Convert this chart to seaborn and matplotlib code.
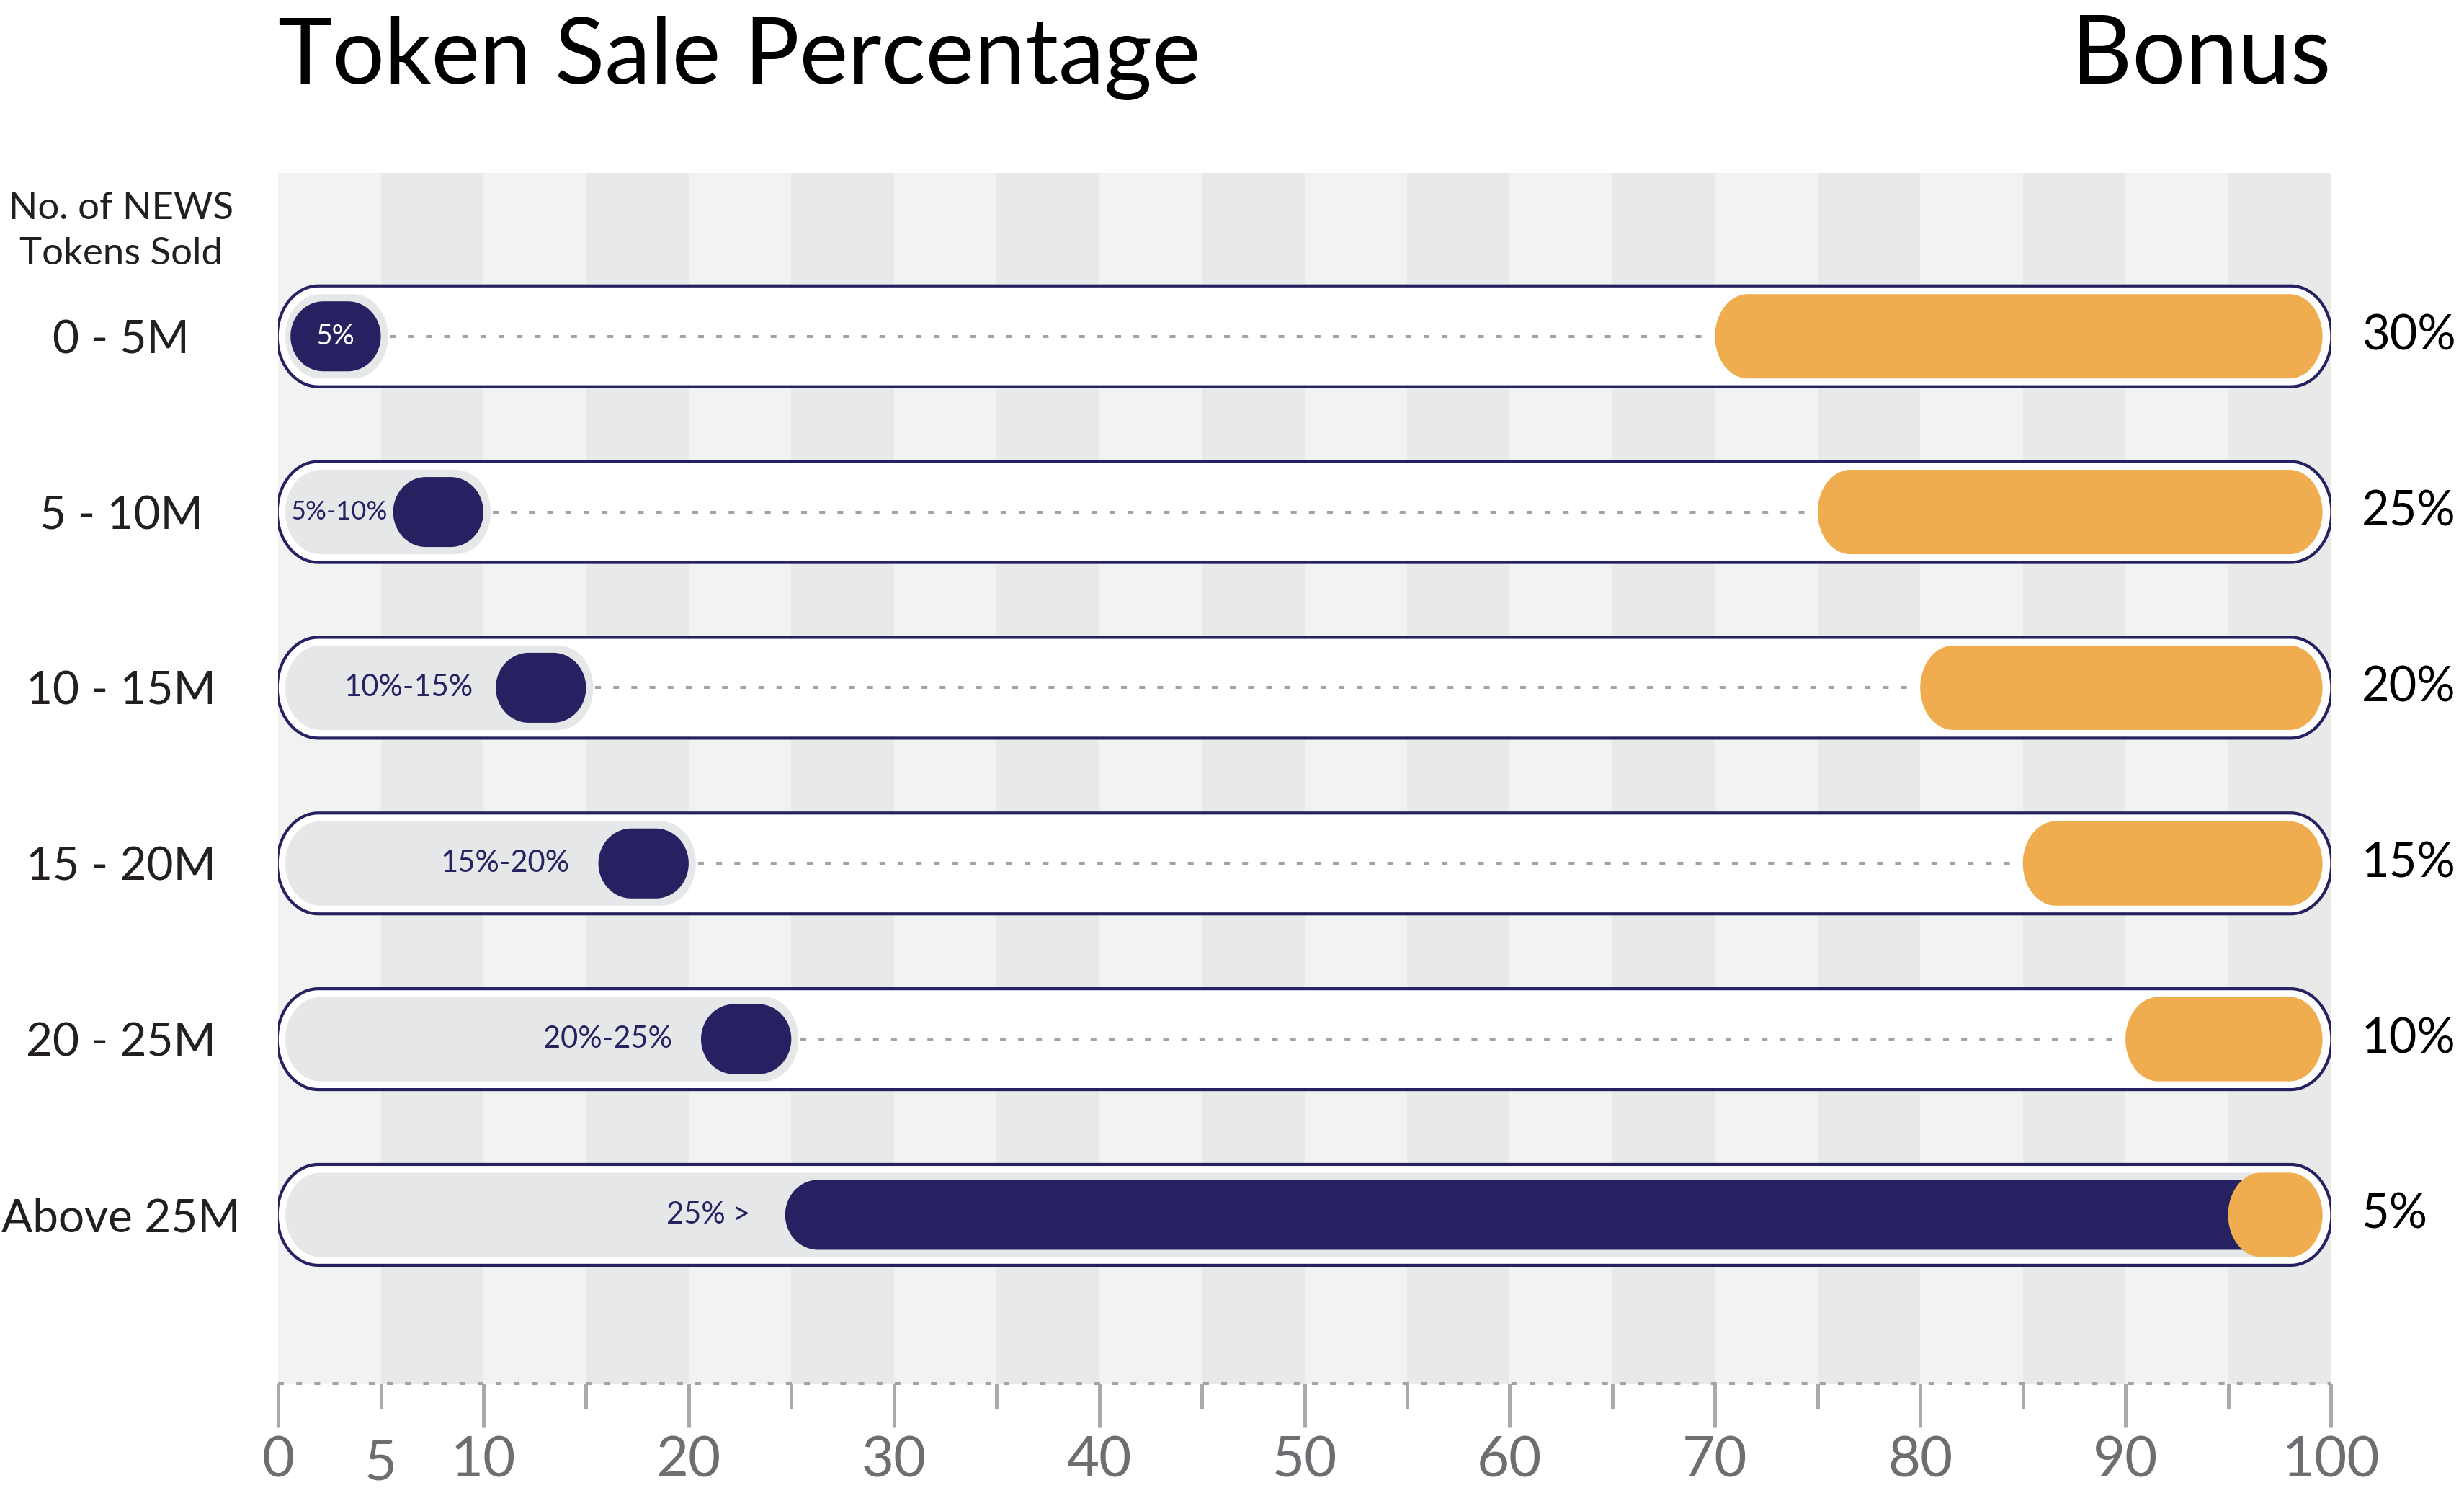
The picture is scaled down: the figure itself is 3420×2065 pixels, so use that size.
import matplotlib
matplotlib.use("Agg")
import matplotlib.pyplot as plt
from matplotlib.patches import Polygon
import numpy as np
import seaborn as sns

# data
tiers = ["0 - 5M", "5 - 10M", "10 - 15M", "15 - 20M", "20 - 25M", "Above 25M"]
sale_start = [0, 5, 10, 15, 20, 25]
sale_end = [5, 10, 15, 20, 25, 100]
sale_labels = ["5%", "5%-10%", "10%-15%", "15%-20%", "20%-25%", "25% >"]
bonus = [30, 25, 20, 15, 10, 5]
bonus_labels = ["30%", "25%", "20%", "15%", "10%", "5%"]
track = [100, 100, 100, 100, 100, 100]
major_ticks = [0, 10, 20, 30, 40, 50, 60, 70, 80, 90, 100]
minor_ticks = [5, 15, 25, 35, 45, 55, 65, 75, 85, 95]
minor_labels = ["5", "", "", "", "", "", "", "", "", ""]

NAVY = "#262262"
ORANGE = "#efad4f"
FILL_GRAY = "#e6e7e9"
STRIPE_LIGHT = "#f1f2f2"
STRIPE_DARK = "#e8e9e9"
DOT_GRAY = "#a3a3a3"
TICK_GRAY = "#a7a9ac"
TICK_TEXT = "#6d6e71"
TEXT = "#231f20"

sns.set_theme(style="white")
plt.rcParams['font.family'] = ['Lato', 'DejaVu Sans']

fig = plt.figure(figsize=(17.1, 10.325), dpi=200)
ax = fig.add_axes([0.1129, 0.0702, 0.8330, 0.8136])
ax.set_facecolor(STRIPE_LIGHT)


def capsule_xy(x0, x1, y0, h, rx):
    # rectangle with elliptical ends (horizontal radius rx, vertical radius h/2)
    yc, ry = y0 + h / 2, h / 2
    rx = min(rx, (x1 - x0) / 2)
    t = np.linspace(-np.pi / 2, np.pi / 2, 40)
    right = np.column_stack([x1 - rx + rx * np.cos(t), yc + ry * np.sin(t)])
    left = np.column_stack([x0 + rx - rx * np.cos(t), yc - ry * np.sin(t)])
    return np.vstack([right, left])


def capsule_layer(values, height, color, lefts, rights, rx, zorder, ec="none", lw=0):
    # draw the bars with seaborn, then swap each rectangle for a capsule of the same row
    n0 = len(ax.patches)
    sns.barplot(x=values, y=tiers, orient="h", width=height, color=color,
                saturation=1, errorbar=None, ax=ax)
    new = list(ax.patches[n0:])
    for p, x0, x1 in zip(new, lefts, rights):
        y0, h = p.get_y(), p.get_height()
        p.remove()
        ax.add_patch(Polygon(capsule_xy(x0, x1, y0, h, rx), closed=True,
                             fc=color, ec=ec, lw=lw, zorder=zorder))


n = len(tiers)
# outer track
capsule_layer(track, 0.574, "white", [-0.05] * n, [t + 0.05 for t in track], 2.0, 2,
              ec=NAVY, lw=1.5)
# light gray progress
gray_right = [min(e + 0.35, 99.6) for e in sale_end]
capsule_layer(sale_end, 0.48, FILL_GRAY, [0.35] * n, gray_right, 1.7, 3)
# navy sale segment
navy_left = [s + 0.6 if e - s <= 5 else s - 0.3 for s, e in zip(sale_start, sale_end)]
navy_right = [min(e, 100 - b + 3) for e, b in zip(sale_end, bonus)]
capsule_layer(sale_end, 0.398, NAVY, navy_left, navy_right, 1.6, 4)
# orange bonus
orange_left = [100 - b for b in bonus]
capsule_layer(bonus, 0.48, ORANGE, orange_left, [99.6] * n, 1.6, 5)

# dotted connectors
for i in range(n):
    if navy_right[i] < orange_left[i]:
        ax.plot([navy_right[i] + 0.45, orange_left[i] - 0.4], [i, i],
                color=DOT_GRAY, lw=1.45, ls=(0, (2, 4.25)), dash_capstyle="butt",
                solid_capstyle="butt", zorder=3.5)

# inner labels
label_size = [14, 13, 15, 15, 15, 15]
label_gap = [0, 0.3, 1.1, 1.4, 1.4, 1.7]
for i, lab in enumerate(sale_labels):
    if i == 0:
        ax.text((navy_left[i] + navy_right[i]) / 2, i, lab, color="white",
                ha="center", va="center", fontsize=label_size[i], zorder=6)
    else:
        ax.text(navy_left[i] - label_gap[i], i, lab, color=NAVY,
                ha="right", va="center", fontsize=label_size[i], zorder=6)

# bonus labels on the right
for i, lab in enumerate(bonus_labels):
    ax.text(101.5, i, lab, ha="left", va="center", fontsize=24, color="black", clip_on=False)

# background stripes every 5 units
for s in range(5, 100, 10):
    ax.axvspan(s, s + 5, color=STRIPE_DARK, lw=0, zorder=0)

ax.set_xlim(0, 100)
ax.set_ylim(5.96, -0.93)
ax.set_xlabel("")
ax.set_ylabel("")

ax.set_xticks(major_ticks)
ax.set_xticks(minor_ticks, labels=minor_labels, minor=True)
ax.tick_params(axis="x", which="major", bottom=True, length=22, width=1.8, color=TICK_GRAY,
               labelsize=28, labelcolor=TICK_TEXT, pad=4)
ax.tick_params(axis="x", which="minor", bottom=True, length=12.5, width=1.8, color=TICK_GRAY,
               labelsize=28, labelcolor=TICK_TEXT, pad=15)

ax.set_yticks(range(n), labels=tiers)
ax.tick_params(axis="y", length=0, pad=78.5, labelsize=23, labelcolor=TEXT)
for t in ax.get_yticklabels():
    t.set_horizontalalignment("center")

for side in ["top", "left", "right"]:
    ax.spines[side].set_visible(False)
ax.spines["bottom"].set_color(DOT_GRAY)
ax.spines["bottom"].set_linewidth(1.45)
ax.spines["bottom"].set_linestyle((0, (2, 4.25)))
ax.spines["bottom"].set_capstyle("butt")

fig.text(168 / 3420, 0.8446, "No. of NEWS\nTokens Sold", ha="center", va="center",
         fontsize=19, color=TEXT, linespacing=1.4)
fig.text(0.1129, 0.944, "Token Sale Percentage", ha="left", va="baseline",
         fontsize=46, color="black")
fig.text(0.9459, 0.944, "Bonus", ha="right", va="baseline", fontsize=47, color="black")

fig.savefig("out.png", dpi=200)
